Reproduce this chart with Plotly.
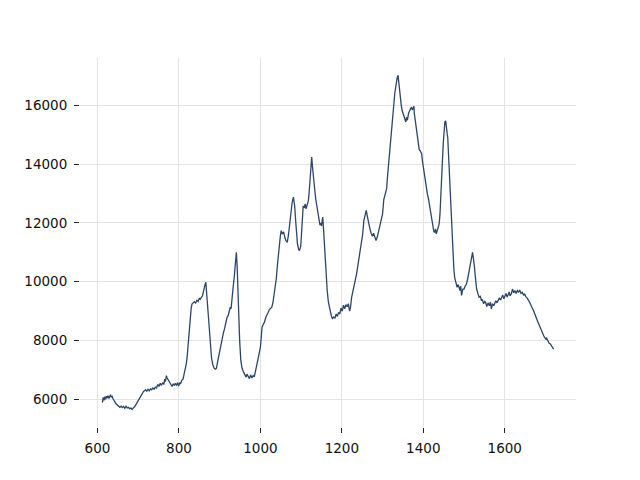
import plotly.graph_objects as go

wavenumber = [
612,614,616,618,620,622,624,626,628,630,632,634,636,638,640,643,646,649,652,655,658,661,664,667,670,673,676,679,682,685,688,691,695,698,701,705,709,713,716,718,721,724,727,730,733,736,739,742,745,748,751,754,757,760,763,765,767,769,771,773,775,778,781,783,786,789,791,794,797,799,802,804,807,810,813,816,818,820,822,824,826,828,830,832,835,838,841,844,847,850,852,855,858,860,862,864,866,868,871,874,877,880,883,886,889,892,895,897,900,903,906,909,912,915,918,921,924,926,928,930,933,936,938,941,943,946,949,952,955,959,962,965,967,970,973,976,979,982,985,988,991,994,997,1000,1002,1004,1007,1010,1013,1016,1019,1022,1025,1028,1031,1034,1036,1039,1042,1044,1047,1049,1051,1054,1057,1059,1061,1063,1066,1069,1071,1073,1075,1078,1081,1084,1087,1089,1091,1094,1096,1099,1101,1103,1105,1108,1110,1112,1114,1116,1118,1120,1122,1124,1126,1128,1130,1133,1136,1138,1140,1142,1144,1146,1148,1150,1152,1153,1155,1157,1159,1162,1164,1167,1171,1174,1177,1180,1183,1186,1189,1192,1195,1198,1201,1204,1207,1210,1213,1216,1219,1221,1224,1228,1232,1236,1240,1244,1248,1251,1254,1257,1260,1263,1266,1269,1272,1275,1278,1281,1284,1287,1290,1294,1297,1300,1303,1306,1308,1310,1312,1314,1316,1319,1322,1325,1328,1330,1332,1334,1336,1338,1340,1342,1344,1346,1348,1350,1352,1355,1357,1359,1361,1364,1366,1369,1371,1373,1375,1377,1378,1380,1383,1386,1388,1390,1392,1394,1396,1398,1400,1402,1404,1407,1410,1413,1416,1418,1420,1422,1424,1426,1428,1430,1432,1435,1437,1439,1441,1443,1445,1447,1449,1451,1453,1455,1457,1459,1460,1462,1463,1465,1467,1470,1472,1475,1477,1480,1483,1486,1488,1490,1492,1494,1497,1500,1503,1506,1509,1512,1515,1517,1519,1521,1523,1524,1526,1527,1529,1531,1534,1537,1540,1543,1545,1548,1551,1553,1556,1559,1562,1565,1567,1570,1573,1575,1578,1581,1584,1587,1590,1592,1595,1598,1600,1603,1606,1608,1611,1613,1616,1619,1622,1625,1628,1631,1634,1637,1640,1643,1646,1649,1652,1655,1657,1660,1663,1665,1668,1671,1674,1677,1680,1682,1685,1688,1690,1693,1696,1698,1701,1703,1706,1709,1712,1714,1716,1718,1720,
]

intensity = [
5880,6060,5960,6080,5990,6100,6040,6120,6020,6090,6150,6060,6090,6010,5940,5900,5830,5800,5770,5720,5760,5710,5750,5690,5760,5700,5720,5670,5700,5650,5700,5740,5830,5900,6000,6100,6190,6260,6290,6320,6270,6330,6280,6350,6320,6380,6340,6410,6380,6500,6430,6540,6470,6560,6500,6680,6600,6800,6720,6680,6620,6540,6480,6430,6520,6460,6540,6480,6560,6440,6560,6520,6640,6680,6850,7020,7200,7420,7800,8220,8580,8900,9100,9240,9280,9320,9260,9380,9330,9440,9400,9460,9530,9650,9820,9900,9980,9600,9000,8300,7760,7400,7180,7060,7020,7050,7280,7420,7700,7950,8160,8250,8400,8620,8780,8850,9000,9130,9080,9300,9800,10200,10600,11000,10500,8910,8000,7300,7050,6910,6820,6750,6850,6740,6700,6820,6720,6800,6760,6950,7140,7300,7550,7760,8100,8440,8550,8620,8780,8900,8950,9050,9100,9130,9300,9550,9700,10100,10600,10950,11300,11550,11740,11620,11700,11500,11460,11400,11340,11600,11860,12200,12540,12700,12880,12600,12000,11600,11290,11100,11060,11200,11640,12200,12560,12540,12650,12480,12560,12620,12770,13100,13560,14000,14250,13900,13680,13200,12800,12600,12400,12200,12100,11950,11970,11900,12100,12200,11800,11300,10830,10200,9700,9300,9010,8850,8730,8800,8760,8900,8820,8950,8900,9100,9000,9200,9080,9220,9150,9250,9000,9100,9470,9700,9920,10250,10610,10950,11290,11600,12080,12300,12430,12200,11950,11800,11650,11550,11650,11480,11400,11520,11700,11915,12150,12310,12800,13000,13100,13170,13560,13900,14130,14700,15270,15730,16100,16410,16600,16860,16950,17030,16700,16630,16290,16000,15840,15750,15670,15550,15440,15600,15500,15750,15840,15900,15950,15850,15900,15980,15730,15500,15160,14800,14590,14500,14470,14400,14360,14100,13900,13650,13450,13200,12990,12800,12540,12350,12200,12000,11860,11700,11690,11800,11630,11750,11850,11970,12300,12770,13400,14130,14700,15270,15450,15480,15100,15000,14930,14300,13790,13100,12430,11600,10950,10450,10150,9950,9810,9900,9750,9700,9850,9530,9750,9750,9850,9920,10100,10320,10500,10610,10800,11000,10800,10720,10450,10270,10000,9750,9600,9470,9500,9350,9400,9250,9330,9300,9150,9280,9180,9300,9070,9250,9180,9240,9350,9280,9350,9450,9380,9470,9550,9420,9530,9600,9480,9530,9650,9520,9580,9750,9620,9700,9600,9700,9650,9700,9600,9640,9550,9580,9480,9450,9410,9320,9250,9180,9050,9000,8900,8750,8680,8610,8500,8420,8330,8250,8150,8100,8050,8080,7990,7900,7880,7820,7780,7760,7700,
]

x_ticks = [600, 800, 1000, 1200, 1400, 1600]
x_labels = ["600", "800", "1000", "1200", "1400", "1600"]
y_ticks = [6000, 8000, 10000, 12000, 14000, 16000]
y_labels = ["6000", "8000", "10000", "12000", "14000", "16000"]

fig = go.Figure()
fig.add_trace(go.Scatter(
    x=wavenumber, y=intensity, mode="lines",
    line=dict(color="#2c4669", width=1.3),
    showlegend=False,
))

axis_common = dict(
    showgrid=True, gridcolor="#e3e3e3", gridwidth=1,
    zeroline=False, showline=False,
    ticks="outside", ticklen=5, tickwidth=1, tickcolor="#222222",
    tickfont=dict(family="DejaVu Sans", size=13.5, color="#111111"),
)

fig.update_layout(
    width=640, height=480,
    margin=dict(l=72, r=72, t=50, b=61),
    paper_bgcolor="white", plot_bgcolor="white",
    xaxis=dict(range=[557, 1775], tickvals=x_ticks, ticktext=x_labels,
               ticklabelstandoff=4, **axis_common),
    yaxis=dict(range=[5050, 17620], tickvals=y_ticks, ticktext=y_labels,
               ticklabelstandoff=4, **axis_common),
)

fig.write_html("out.html")
